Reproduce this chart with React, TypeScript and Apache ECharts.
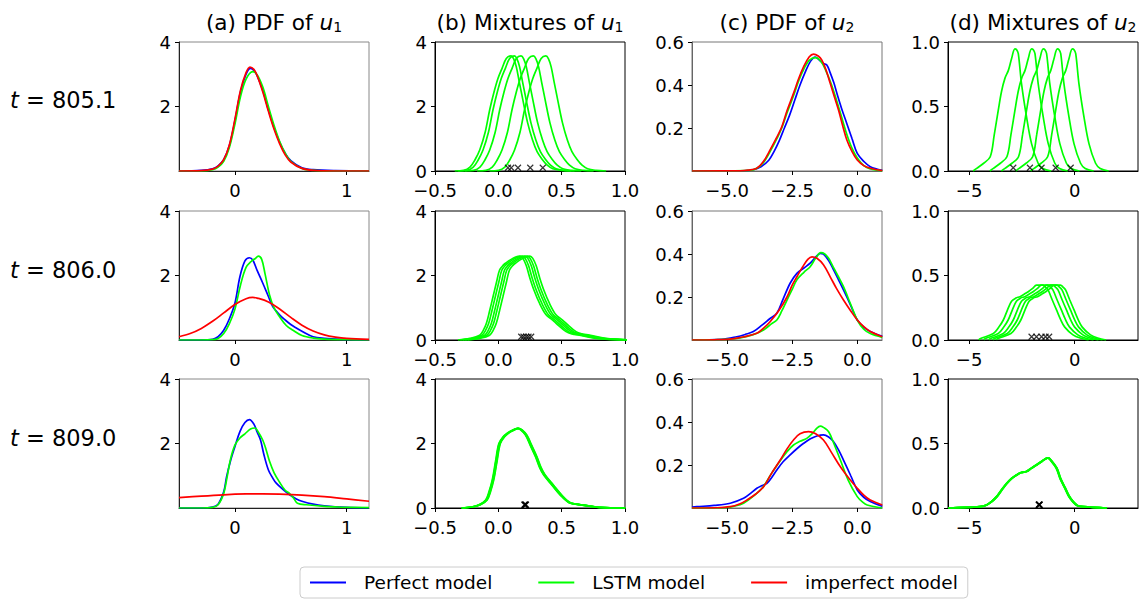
import React, { useEffect, useRef } from "react";
import * as echarts from "echarts";

const FONT = "DejaVu Sans";
const BLUE = "#0000ff";
const GREEN = "#00ff00";
const RED = "#ff0000";

// ---------- layout / axes description ----------
const colTitles = [
  "(a) PDF of {i|u}{s|1}",
  "(b) Mixtures of {i|u}{s|1}",
  "(c) PDF of {i|u}{s|2}",
  "(d) Mixtures of {i|u}{s|2}",
];
const rowLabels = ["805.1", "806.0", "809.0"];
const xRanges = [[-0.5, 1.2], [-0.5, 1.0], [-6.35, 0.95], [-6, 3]];
const xTickVals = [[0, 1], [-0.5, 0, 0.5, 1.0], [-5, -2.5, 0], [-5, 0]];
const xTickDec = [0, 1, 1, 0];
const yMaxes = [4, 4, 0.6, 1];
const yTickVals = [[2, 4], [0, 2, 4], [0.2, 0.4, 0.6], [0, 0.5, 1]];
const yTickDec = [0, 0, 1, 1];

// ---------- (a) PDF of u1 ----------
const aPerfect1 = [[-0.5,0],[-0.3,0.02],[-0.2,0.07],[-0.15,0.16],[-0.1,0.35],[-0.05,0.78],[0,1.55],[0.05,2.45],[0.1,3.0],[0.14,3.18],[0.17,3.12],[0.2,2.95],[0.25,2.5],[0.3,1.9],[0.35,1.35],[0.4,0.9],[0.45,0.55],[0.5,0.32],[0.6,0.1],[0.7,0.04],[0.9,0.01],[1.2,0]];
const aLstm1 = [[-0.5,0],[-0.3,0],[-0.2,0.04],[-0.15,0.12],[-0.1,0.3],[-0.05,0.72],[0,1.45],[0.05,2.3],[0.1,2.85],[0.16,3.08],[0.2,2.98],[0.25,2.6],[0.3,2.0],[0.35,1.42],[0.4,0.92],[0.45,0.55],[0.5,0.3],[0.6,0.08],[0.7,0.02],[0.9,0],[1.2,0]];
const aImperfect1 = [[-0.5,0],[-0.3,0.01],[-0.2,0.06],[-0.15,0.15],[-0.1,0.35],[-0.05,0.8],[0,1.6],[0.05,2.5],[0.1,3.05],[0.135,3.22],[0.17,3.15],[0.2,2.95],[0.25,2.45],[0.3,1.85],[0.35,1.3],[0.4,0.85],[0.45,0.5],[0.5,0.28],[0.6,0.08],[0.7,0.02],[0.9,0],[1.2,0]];

const aPerfect2 = [[-0.5,0],[-0.3,0],[-0.2,0.02],[-0.15,0.1],[-0.1,0.3],[-0.05,0.65],[0,1.14],[0.045,1.96],[0.09,2.45],[0.13,2.55],[0.16,2.48],[0.2,2.15],[0.25,1.76],[0.3,1.35],[0.34,1.03],[0.4,0.78],[0.45,0.62],[0.5,0.48],[0.55,0.37],[0.6,0.27],[0.7,0.1],[0.8,0.05],[0.95,0.02],[1.2,0]];
const aLstm2 = [[-0.5,0],[-0.3,0],[-0.2,0.01],[-0.15,0.05],[-0.1,0.2],[-0.05,0.5],[0,0.95],[0.05,1.7],[0.1,2.25],[0.15,2.45],[0.18,2.52],[0.21,2.6],[0.24,2.5],[0.27,2.05],[0.31,1.4],[0.35,1.0],[0.4,0.72],[0.46,0.45],[0.52,0.3],[0.6,0.14],[0.7,0.06],[0.8,0.03],[1.0,0.01],[1.2,0]];
const aImperfect2 = [[-0.5,0.1],[-0.4,0.2],[-0.3,0.36],[-0.2,0.58],[-0.1,0.84],[0,1.1],[0.1,1.28],[0.16,1.32],[0.2,1.3],[0.3,1.18],[0.4,0.96],[0.5,0.7],[0.6,0.46],[0.7,0.28],[0.8,0.16],[0.9,0.09],[1.0,0.05],[1.2,0.02]];

const aPerfect3 = [[-0.5,0],[-0.3,0],[-0.2,0.03],[-0.15,0.12],[-0.1,0.5],[-0.074,0.97],[-0.04,1.45],[0,1.9],[0.045,2.37],[0.09,2.65],[0.13,2.74],[0.17,2.6],[0.2,2.35],[0.23,2.1],[0.26,1.65],[0.3,1.18],[0.34,0.92],[0.37,0.77],[0.43,0.58],[0.49,0.41],[0.55,0.28],[0.6,0.21],[0.7,0.12],[0.8,0.07],[1.0,0.02],[1.2,0]];
const aLstm3 = [[-0.5,0],[-0.3,0],[-0.2,0.02],[-0.15,0.1],[-0.1,0.45],[-0.07,0.95],[-0.04,1.5],[0,1.95],[0.045,2.17],[0.09,2.3],[0.14,2.45],[0.18,2.48],[0.21,2.35],[0.25,2.1],[0.28,1.8],[0.31,1.45],[0.35,1.1],[0.4,0.8],[0.45,0.55],[0.49,0.45],[0.53,0.28],[0.56,0.15],[0.64,0.1],[0.8,0.05],[0.94,0.03],[1.2,0.01]];
const aImperfect3 = [[-0.5,0.32],[-0.3,0.37],[-0.1,0.41],[0.1,0.435],[0.25,0.44],[0.4,0.43],[0.6,0.4],[0.8,0.35],[1.0,0.28],[1.2,0.21]];

// ---------- (b) mixtures of u1: component shape (relative to its mean) + means ----------
const bShape1 = [[-0.42,0],[-0.35,0.02],[-0.3,0.12],[-0.26,0.35],[-0.223,0.65],[-0.18,1.2],[-0.144,1.9],[-0.11,2.45],[-0.079,2.87],[-0.045,3.2],[-0.013,3.49],[0.024,3.57],[0.045,3.48],[0.066,3.23],[0.09,2.75],[0.118,2.2],[0.155,1.5],[0.194,0.96],[0.23,0.6],[0.274,0.34],[0.31,0.18],[0.354,0.07],[0.42,0.02],[0.5,0]];
const bMeans1 = [0.076, 0.102, 0.155, 0.252, 0.351];
const bShape2 = [[-0.5,0],[-0.406,0.05],[-0.328,0.15],[-0.3,0.3],[-0.275,0.52],[-0.25,0.9],[-0.223,1.34],[-0.195,1.8],[-0.171,2.17],[-0.14,2.33],[-0.118,2.4],[-0.08,2.5],[-0.039,2.58],[-0.01,2.6],[0.013,2.53],[0.04,2.3],[0.065,1.96],[0.1,1.55],[0.144,1.14],[0.196,0.78],[0.24,0.64],[0.275,0.52],[0.354,0.26],[0.4,0.19],[0.459,0.15],[0.589,0.05],[0.82,0]];
const bMeans2 = [0.181, 0.199, 0.22, 0.238, 0.259];
const bShape3 = [[-0.5,0],[-0.42,0.03],[-0.359,0.1],[-0.306,0.25],[-0.28,0.5],[-0.254,0.87],[-0.228,1.45],[-0.202,2.0],[-0.17,2.2],[-0.136,2.32],[-0.1,2.4],[-0.057,2.47],[-0.03,2.42],[0.008,2.26],[0.045,1.95],[0.087,1.59],[0.12,1.25],[0.152,1.02],[0.217,0.71],[0.283,0.4],[0.348,0.17],[0.4,0.12],[0.453,0.09],[0.584,0.02],[0.788,0]];
const bMeans3 = [0.206, 0.209, 0.212, 0.215, 0.218];
const bMarkY = 0.1;

// ---------- (c) PDF of u2 ----------
const cPerfect1 = [[-6.35,0],[-4.4,0.001],[-4.0,0.006],[-3.7,0.02],[-3.4,0.05],[-3.2,0.09],[-3.0,0.14],[-2.8,0.2],[-2.6,0.26],[-2.4,0.33],[-2.2,0.4],[-2.0,0.46],[-1.8,0.51],[-1.62,0.53],[-1.45,0.515],[-1.3,0.5],[-1.17,0.493],[-1.05,0.46],[-0.9,0.41],[-0.78,0.36],[-0.6,0.29],[-0.4,0.22],[-0.2,0.15],[0,0.082],[0.25,0.045],[0.5,0.02],[0.96,0.003]];
const cLstm1 = [[-6.35,0],[-4.3,0.002],[-3.9,0.01],[-3.6,0.04],[-3.35,0.09],[-3.1,0.148],[-2.9,0.2],[-2.7,0.27],[-2.45,0.35],[-2.25,0.42],[-2.05,0.475],[-1.85,0.515],[-1.6,0.527],[-1.4,0.51],[-1.2,0.465],[-1.0,0.405],[-0.8,0.33],[-0.6,0.25],[-0.4,0.17],[-0.2,0.105],[0,0.06],[0.25,0.025],[0.5,0.01],[0.96,0.001]];
const cImperfect1 = [[-6.35,0],[-4.5,0.001],[-4.2,0.004],[-3.86,0.013],[-3.6,0.045],[-3.35,0.098],[-3.1,0.155],[-2.9,0.206],[-2.7,0.28],[-2.45,0.361],[-2.25,0.43],[-2.06,0.485],[-1.85,0.53],[-1.68,0.544],[-1.5,0.535],[-1.36,0.516],[-1.2,0.47],[-1.04,0.408],[-0.88,0.345],[-0.72,0.284],[-0.56,0.21],[-0.4,0.144],[-0.2,0.09],[0,0.051],[0.25,0.025],[0.5,0.013],[0.96,0.002]];

const cPerfect2 = [[-6.35,0],[-5.2,0.003],[-4.63,0.015],[-4.3,0.026],[-3.99,0.039],[-3.65,0.07],[-3.35,0.1],[-3.09,0.124],[-2.85,0.19],[-2.58,0.264],[-2.32,0.31],[-2.05,0.335],[-1.81,0.357],[-1.6,0.385],[-1.42,0.403],[-1.3,0.4],[-1.1,0.37],[-0.91,0.326],[-0.72,0.28],[-0.53,0.233],[-0.25,0.16],[0,0.093],[0.25,0.06],[0.5,0.04],[0.96,0.017]];
const cLstm2 = [[-6.35,0],[-5.0,0.003],[-4.5,0.01],[-4.0,0.025],[-3.6,0.047],[-3.3,0.075],[-3.09,0.093],[-2.9,0.135],[-2.7,0.186],[-2.5,0.235],[-2.32,0.28],[-2.05,0.315],[-1.81,0.341],[-1.6,0.38],[-1.4,0.406],[-1.25,0.4],[-1.1,0.38],[-0.97,0.35],[-0.75,0.3],[-0.53,0.248],[-0.25,0.165],[0,0.093],[0.25,0.05],[0.5,0.03],[0.96,0.012]];
const cImperfect2 = [[-6.35,0],[-5.5,0.001],[-4.88,0.004],[-4.4,0.014],[-3.86,0.031],[-3.6,0.055],[-3.35,0.085],[-3.0,0.14],[-2.7,0.2],[-2.5,0.255],[-2.32,0.294],[-2.1,0.34],[-1.9,0.375],[-1.74,0.387],[-1.55,0.38],[-1.3,0.35],[-1.04,0.294],[-0.8,0.24],[-0.53,0.186],[-0.25,0.135],[0,0.093],[0.25,0.062],[0.5,0.039],[0.96,0.015]];

const cPerfect3 = [[-6.35,0.004],[-6.17,0.006],[-5.5,0.012],[-4.88,0.022],[-4.37,0.045],[-4.1,0.068],[-3.86,0.092],[-3.65,0.105],[-3.47,0.115],[-3.3,0.14],[-3.09,0.177],[-2.85,0.215],[-2.58,0.247],[-2.3,0.278],[-2.06,0.301],[-1.8,0.322],[-1.55,0.335],[-1.3,0.34],[-1.1,0.33],[-0.91,0.308],[-0.72,0.27],[-0.53,0.223],[-0.25,0.15],[0,0.084],[0.25,0.05],[0.5,0.03],[0.96,0.008]];
const cLstm3 = [[-6.35,0],[-5.2,0.001],[-4.5,0.015],[-4.1,0.045],[-3.8,0.075],[-3.6,0.1],[-3.3,0.16],[-2.96,0.22],[-2.7,0.262],[-2.45,0.293],[-2.2,0.31],[-1.94,0.324],[-1.7,0.35],[-1.55,0.372],[-1.42,0.381],[-1.3,0.375],[-1.1,0.355],[-0.9,0.3],[-0.65,0.223],[-0.35,0.13],[0,0.053],[0.2,0.028],[0.38,0.014],[0.96,0]];
const cImperfect3 = [[-6.35,0],[-5.5,0.001],[-4.88,0.006],[-4.5,0.02],[-4.24,0.037],[-3.9,0.065],[-3.6,0.099],[-3.3,0.16],[-2.96,0.223],[-2.7,0.275],[-2.45,0.316],[-2.2,0.345],[-1.87,0.355],[-1.6,0.345],[-1.3,0.316],[-1.0,0.26],[-0.65,0.192],[-0.3,0.135],[0,0.092],[0.25,0.06],[0.5,0.037],[0.96,0.014]];

// ---------- (d) mixtures of u2 ----------
const dShape1 = [[-1.9,0],[-1.73,0.02],[-1.4,0.06],[-1.09,0.11],[-0.9,0.28],[-0.71,0.47],[-0.55,0.62],[-0.39,0.72],[-0.23,0.78],[-0.08,0.87],[0.08,0.946],[0.16,0.94],[0.24,0.91],[0.39,0.68],[0.63,0.42],[0.87,0.21],[1.18,0.06],[1.4,0.02],[1.8,0]];
const dMeans1 = [-2.91, -2.12, -1.57, -0.9, -0.19];
const dShape2 = [[-2.5,0],[-2.44,0.01],[-1.81,0.05],[-1.55,0.1],[-1.34,0.155],[-1.15,0.23],[-0.95,0.3],[-0.75,0.325],[-0.55,0.336],[-0.35,0.355],[-0.16,0.374],[0.05,0.4],[0.23,0.426],[0.54,0.426],[0.66,0.41],[0.78,0.388],[0.98,0.31],[1.18,0.233],[1.37,0.16],[1.57,0.1],[1.96,0.04],[2.3,0.015],[2.7,0]];
const dMeans2 = [-2.04, -1.81, -1.57, -1.38, -1.21];
const dShape3 = [[-4.3,0],[-2.8,0.01],[-2.49,0.023],[-2.25,0.05],[-2.01,0.088],[-1.78,0.14],[-1.54,0.19],[-1.3,0.23],[-1.07,0.256],[-0.85,0.275],[-0.6,0.283],[-0.4,0.305],[-0.13,0.333],[0.15,0.365],[0.42,0.388],[0.55,0.37],[0.82,0.31],[1.0,0.23],[1.21,0.16],[1.4,0.095],[1.6,0.049],[1.8,0.02],[2.07,0.01],[3.2,0]];
const dMeans3 = [-1.7, -1.69, -1.68, -1.67, -1.66];
const dMarkY = 0.025;

const legendNames = ["Perfect model", "LSTM model", "imperfect model"];

// ---------- figure geometry ----------
const colLeft = [179, 435, 692, 948];
const rowTop = [42, 211, 379];
const PW = 190;
const PH = 129;
const rowLabelY = [100, 270, 438];
const frameTop = ["#888888", "#000000", "#777777", "#000000"];
const frameAxis = ["#222222", "#000000", "#666666", "#000000"];

const fmt = (v: number, d: number) => {
  const s = Math.abs(v).toFixed(d);
  return v < -1e-9 ? "\u2212" + s : s;
};

function buildOption() {
  const grids: any[] = [];
  const xAxes: any[] = [];
  const yAxes: any[] = [];
  for (let r = 0; r < 3; r++) {
    for (let c = 0; c < 4; c++) {
      const g = r * 4 + c;
      grids.push({
        left: colLeft[c], top: rowTop[r], width: PW, height: PH,
        show: true, borderColor: frameTop[c], borderWidth: 1, backgroundColor: "transparent",
      });
      const label = { fontFamily: FONT, fontSize: 18, color: "#000" };
      xAxes.push({
        type: "value", gridIndex: g, min: xRanges[c][0], max: xRanges[c][1],
        axisLine: { show: true, onZero: false, lineStyle: { color: frameAxis[c], width: 1 } },
        axisTick: { show: true, inside: false, length: 4, customValues: xTickVals[c], lineStyle: { color: "#000" } },
        axisLabel: { ...label, margin: 10, lineHeight: 18, customValues: xTickVals[c], formatter: (v: number) => fmt(v, xTickDec[c]) },
        splitLine: { show: false },
      });
      yAxes.push({
        type: "value", gridIndex: g, min: 0, max: yMaxes[c],
        axisLine: { show: true, onZero: false, lineStyle: { color: frameAxis[c], width: 1 } },
        axisTick: { show: true, inside: false, length: 4, customValues: yTickVals[c], lineStyle: { color: "#000" } },
        axisLabel: { ...label, margin: 8, lineHeight: 15, customValues: yTickVals[c], formatter: (v: number) => fmt(v, yTickDec[c]) },
        splitLine: { show: false },
      });
    }
  }

  const series: any[] = [];
  const line = (g: number, name: string, color: string, data: number[][]) => {
    series.push({
      type: "line", name, xAxisIndex: g, yAxisIndex: g, data,
      showSymbol: false, symbol: "none", smooth: 0.35, clip: true, silent: true,
      lineStyle: { color, width: 1.7 }, itemStyle: { color },
    });
  };
  const mixture = (g: number, shape: number[][], means: number[], markY: number) => {
    means.forEach((m) => line(g, "LSTM model", GREEN, shape.map(([dx, y]) => [dx + m, y])));
    series.push({
      type: "scatter", name: "component means", xAxisIndex: g, yAxisIndex: g,
      data: means.map((m) => [m, markY]),
      symbol: "path://M0,0L10,10M10,0L0,10", symbolSize: 6, silent: true,
      itemStyle: { color: "transparent", borderColor: "#000", borderWidth: 1.2 },
      z: 5,
    });
  };

  const pdfA = [[aPerfect1, aLstm1, aImperfect1], [aPerfect2, aLstm2, aImperfect2], [aPerfect3, aLstm3, aImperfect3]];
  const pdfC = [[cPerfect1, cLstm1, cImperfect1], [cPerfect2, cLstm2, cImperfect2], [cPerfect3, cLstm3, cImperfect3]];
  const mixB = [[bShape1, bMeans1], [bShape2, bMeans2], [bShape3, bMeans3]];
  const mixD = [[dShape1, dMeans1], [dShape2, dMeans2], [dShape3, dMeans3]];
  const colors = [BLUE, GREEN, RED];

  for (let r = 0; r < 3; r++) {
    pdfA[r].forEach((d, k) => line(r * 4 + 0, legendNames[k], colors[k], d as number[][]));
    mixture(r * 4 + 1, mixB[r][0] as number[][], mixB[r][1] as number[], bMarkY);
    pdfC[r].forEach((d, k) => line(r * 4 + 2, legendNames[k], colors[k], d as number[][]));
    mixture(r * 4 + 3, mixD[r][0] as number[][], mixD[r][1] as number[], dMarkY);
  }

  const richBase = { fontFamily: FONT, fill: "#000", color: "#000" };
  const graphic: any[] = [];
  colTitles.forEach((t, i) => {
    graphic.push({
      type: "text", x: colLeft[i] + PW / 2, y: 22,
      style: {
        text: t, fontFamily: FONT, fontSize: 21.6, fill: "#000", align: "center", verticalAlign: "middle", lineHeight: 24,
        rich: {
          i: { ...richBase, fontSize: 21.6, fontStyle: "italic", lineHeight: 24 },
          s: { ...richBase, fontSize: 14, verticalAlign: "bottom", lineHeight: 14 },
        },
      },
    });
  });
  rowLabels.forEach((t, i) => {
    graphic.push({
      type: "text", x: 10, y: rowLabelY[i],
      style: {
        text: "{i|t} = " + t, fontFamily: FONT, fontSize: 22.5, fill: "#000", align: "left", verticalAlign: "middle", lineHeight: 24,
        rich: { i: { ...richBase, fontSize: 22.5, fontStyle: "italic", lineHeight: 24 } },
      },
    });
  });

  return {
    animation: false,
    backgroundColor: "#ffffff",
    grid: grids,
    xAxis: xAxes,
    yAxis: yAxes,
    series,
    graphic,
    legend: {
      data: legendNames, left: 300, top: 567, padding: [6, 10, 6, 10],
      itemGap: 46, itemWidth: 36, itemHeight: 2, icon: "rect", selectedMode: false,
      borderColor: "#cccccc", borderWidth: 1, borderRadius: 4, backgroundColor: "#ffffff",
      textStyle: { fontFamily: FONT, fontSize: 18.5, color: "#000", padding: [0, 0, 0, 13] },
    },
  };
}

export default function App() {
  const ref = useRef<HTMLDivElement>(null);
  useEffect(() => {
    if (!ref.current) return;
    const chart = echarts.init(ref.current, null, { renderer: "svg" });
    chart.setOption(buildOption() as any);
    return () => chart.dispose();
  }, []);
  return (
    <div
      ref={ref}
      style={{ position: "absolute", left: 0, top: 0, width: 1139, height: 601, background: "#fff" }}
    />
  );
}
